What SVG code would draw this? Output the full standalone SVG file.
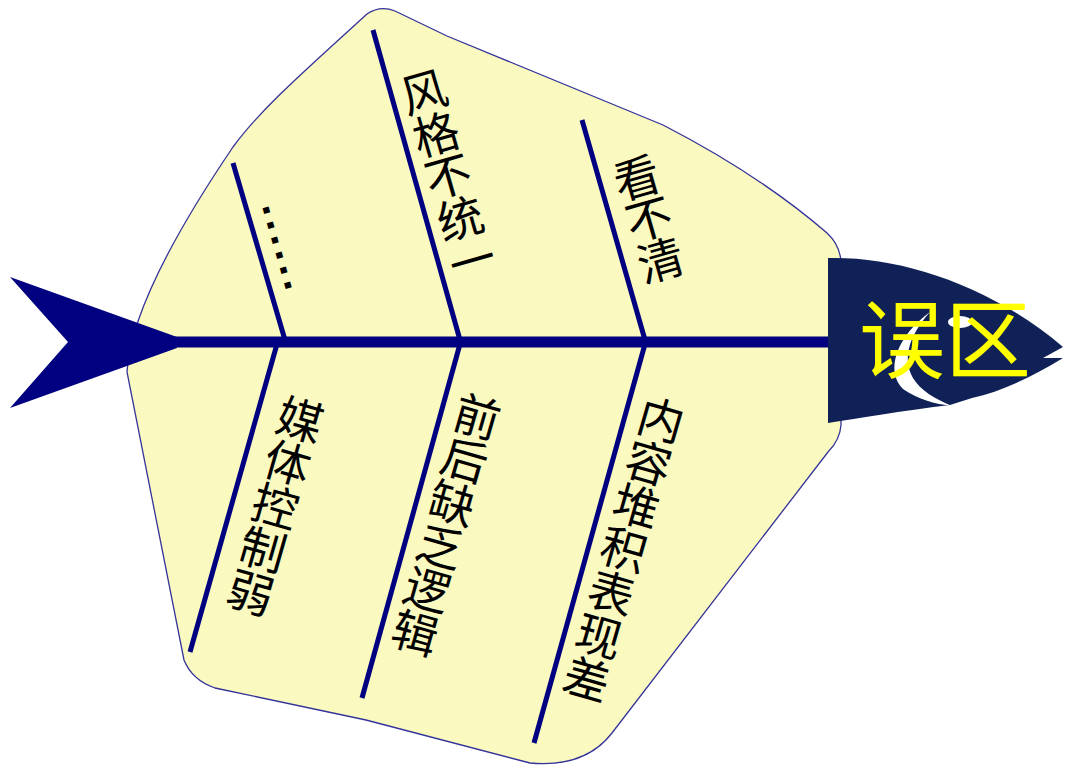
<svg xmlns="http://www.w3.org/2000/svg" width="1070" height="766" viewBox="0 0 1070 766">
<style>
.bone{stroke:#000080;stroke-width:5;stroke-linecap:butt;fill:none}
.lbl{font-family:"Noto Sans CJK SC","Noto Sans",sans-serif;font-size:46px;fill:#000;text-anchor:middle}
.title{font-family:"Noto Sans CJK SC","Noto Sans",sans-serif;font-size:86px;fill:#ffff00;text-anchor:middle}
</style>
<rect width="1070" height="766" fill="#ffffff"/>
<g id="body">
<path d="M367,14 Q380,5 395,11 L447,36 L663,125 Q760,175 827,233 Q840,245 841,262 L841,425 Q840,440 828,452 L612,733 Q585,768 530,763 L366,720 L215,688 Q192,680 184,660 L127,372 C130,320 170,240 233,147 C260,110 300,75 367,14 Z" fill="#f9f9c0" stroke="#33339a" stroke-width="1.3"/>
</g>
<g id="connectors">
<line class="bone" x1="175" y1="342" x2="835" y2="342" style="stroke-width:11"/>
<line class="bone" x1="233" y1="163" x2="285" y2="340"/>
<line class="bone" x1="373" y1="30" x2="460" y2="340"/>
<line class="bone" x1="582" y1="120" x2="645" y2="340"/>
<line class="bone" x1="277" y1="344" x2="190" y2="652"/>
<line class="bone" x1="460" y1="344" x2="362" y2="698"/>
<line class="bone" x1="645" y1="344" x2="534" y2="743"/>
</g>
<g id="tail">
<path d="M10,277 L177,337 L177,348 L10,408 L68,342 Z" fill="#000080"/>
</g>
<g id="head">
<path d="M828,258 C900,256 990,285 1063,347 L1043,358 L1063,358 C1030,378 1000,392 972,398 L950,405 C900,411 860,418 828,423 Z" fill="#0f2156"/>
<path d="M930,312 C898,335 884,370 903,389 C917,399 935,404 952,406 C935,399 920,390 913,378 C903,360 907,338 930,312 Z" fill="#ffffff"/>
<ellipse cx="960" cy="322" rx="12" ry="6" fill="#ffffff"/>
<text class="title" x="945" y="372">误区</text>
</g>
<g id="label-dots">
<text transform="translate(276,248) rotate(74)" x="2" y="2" style="font-family:'Liberation Sans',sans-serif;font-weight:bold;font-size:42px;letter-spacing:3.9px;text-anchor:middle;fill:#000">......</text>
</g>
<g id="label-fengge" transform="translate(424,92) rotate(-16)">
<text class="lbl"><tspan x="0" y="17">风</tspan><tspan x="0" y="61">格</tspan><tspan x="0" y="105">不</tspan><tspan x="0" y="149">统</tspan><tspan x="0" y="193">一</tspan></text>
</g>
<g id="label-kanbuqing" transform="translate(637,178) rotate(-16)">
<text class="lbl"><tspan x="0" y="17">看</tspan><tspan x="0" y="60">不</tspan><tspan x="0" y="103">清</tspan></text>
</g>
<g id="label-meiti" transform="translate(300,420) rotate(16)">
<text class="lbl"><tspan x="0" y="17">媒</tspan><tspan x="0" y="62">体</tspan><tspan x="0" y="107">控</tspan><tspan x="0" y="152">制</tspan><tspan x="0" y="197">弱</tspan></text>
</g>
<g id="label-qianhou" transform="translate(477,417) rotate(16)">
<text class="lbl"><tspan x="0" y="17">前</tspan><tspan x="0" y="62">后</tspan><tspan x="0" y="107">缺</tspan><tspan x="0" y="152">乏</tspan><tspan x="0" y="197">逻</tspan><tspan x="0" y="242">辑</tspan></text>
</g>
<g id="label-neirong" transform="translate(661,420) rotate(16)">
<text class="lbl"><tspan x="0" y="17">内</tspan><tspan x="0" y="62">容</tspan><tspan x="0" y="107">堆</tspan><tspan x="0" y="152">积</tspan><tspan x="0" y="197">表</tspan><tspan x="0" y="242">现</tspan><tspan x="0" y="287">差</tspan></text>
</g>
</svg>
